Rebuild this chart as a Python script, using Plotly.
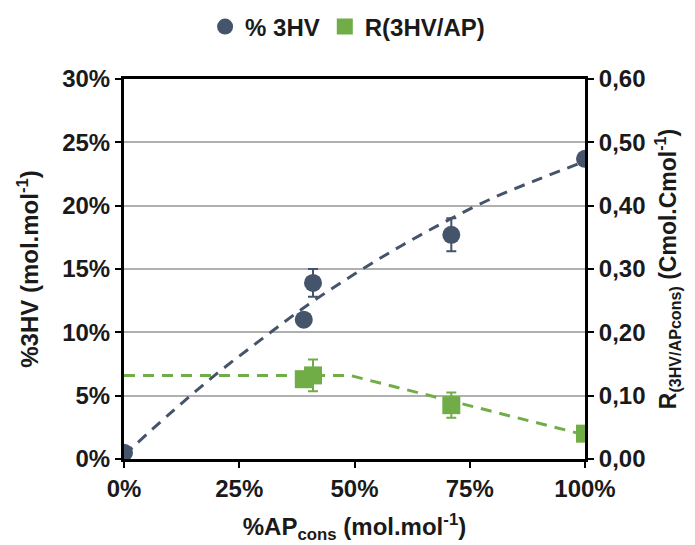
import plotly.graph_objects as go

# ---- data ----
ap_hv = [0, 39, 41, 71, 100]              # %AP_cons (x) for %3HV points
hv = [0.5, 11.0, 13.9, 17.7, 23.7]        # %3HV
hv_err = [0.3, 0.0, 1.1, 1.3, 0.4]

ap_r = [39, 41, 71, 100]                  # %AP_cons for R points
r_val = [0.126, 0.132, 0.085, 0.040]
r_err = [0.0, 0.025, 0.02, 0.0]

fit_hv_x = [0, 10, 20, 30, 40, 50, 60, 70, 80, 90, 100]
fit_hv_y = [0.3, 3.6, 6.7, 9.5, 12.2, 14.6, 16.8, 18.8, 20.6, 22.1, 23.5]

fit_r_x = [0, 49, 100]
fit_r_y = [0.132, 0.132, 0.038]

x_ticks = [0, 25, 50, 75, 100]
x_labels = ["0%", "25%", "50%", "75%", "100%"]
y_ticks = [0, 5, 10, 15, 20, 25, 30]
y_labels = ["0%", "5%", "10%", "15%", "20%", "25%", "30%"]
y2_ticks = [0, 0.1, 0.2, 0.3, 0.4, 0.5, 0.6]
y2_labels = ["0,00", "0,10", "0,20", "0,30", "0,40", "0,50", "0,60"]

BLUE = "#44546A"
GREEN = "#70AD47"
FONT = "Liberation Sans, Arial, sans-serif"
TXT = "#1a1a1a"
FS = 24

fig = go.Figure()

fig.add_trace(go.Scatter(
    x=fit_hv_x, y=fit_hv_y, mode="lines", line=dict(color=BLUE, width=3, dash="11px,8px", shape="spline"),
    showlegend=False, hoverinfo="skip"))
fig.add_trace(go.Scatter(
    x=fit_r_x, y=fit_r_y, mode="lines", yaxis="y2",
    line=dict(color=GREEN, width=3, dash="11px,8px"),
    showlegend=False, hoverinfo="skip"))

fig.add_trace(go.Scatter(
    x=ap_hv, y=hv, mode="markers", name="% 3HV",
    marker=dict(symbol="circle", size=18, color=BLUE),
    error_y=dict(type="data", array=hv_err, color=BLUE, thickness=2, width=5)))
fig.add_trace(go.Scatter(
    x=ap_r, y=r_val, mode="markers", name="R(3HV/AP)", yaxis="y2",
    marker=dict(symbol="square", size=18, color=GREEN),
    error_y=dict(type="data", array=r_err, color=GREEN, thickness=2, width=5)))

tickfont = dict(family=FONT, size=FS, color=TXT, weight="bold")
titlefont = dict(family=FONT, size=FS, color=TXT)

fig.update_layout(
    width=695, height=545,
    margin=dict(l=116, r=118, t=71, b=94, autoexpand=False),
    paper_bgcolor="white", plot_bgcolor="white",
    font=dict(family=FONT, size=FS, color=TXT),
    showlegend=True,
    legend=dict(orientation="h", x=0.485, xanchor="center", y=1.137, yanchor="middle",
                font=dict(family=FONT, size=FS, color=TXT, weight="bold"),
                itemsizing="trace", itemwidth=30, tracegroupgap=0),
    xaxis=dict(range=[0, 100], tickvals=x_ticks, ticktext=x_labels, tickfont=tickfont,
               showline=True, linecolor="black", linewidth=3, mirror=True,
               ticks="outside", ticklen=6, tickwidth=2, tickcolor="black",
               showgrid=False, zeroline=False, automargin=False,
               title=dict(text="<b>%AP<sub>cons</sub> (mol.mol<sup>-1</sup>)</b>",
                          font=titlefont, standoff=18)),
    yaxis=dict(range=[0, 30], tickvals=y_ticks, ticktext=y_labels, tickfont=tickfont,
               showline=True, linecolor="black", linewidth=3,
               ticks="outside", ticklen=6, tickwidth=2, tickcolor="black",
               showgrid=True, gridcolor="#b0b0b0", gridwidth=2, zeroline=False, automargin=False,
               title=dict(text="<b>%3HV (mol.mol<sup>-1</sup>)</b>",
                          font=titlefont, standoff=17)),
    yaxis2=dict(range=[0, 0.6], tickvals=y2_ticks, ticktext=y2_labels, tickfont=tickfont,
                overlaying="y", side="right",
                showline=True, linecolor="black", linewidth=3,
                ticks="outside", ticklen=6, tickwidth=2, tickcolor="black",
                showgrid=False, zeroline=False, automargin=False,
                title=dict(text="<b>R<sub>(3HV/APcons)</sub> (Cmol.Cmol<sup>-1</sup>)</b>",
                           font=dict(family=FONT, size=23, color=TXT), standoff=16)),
)

fig.write_html("out.html")
